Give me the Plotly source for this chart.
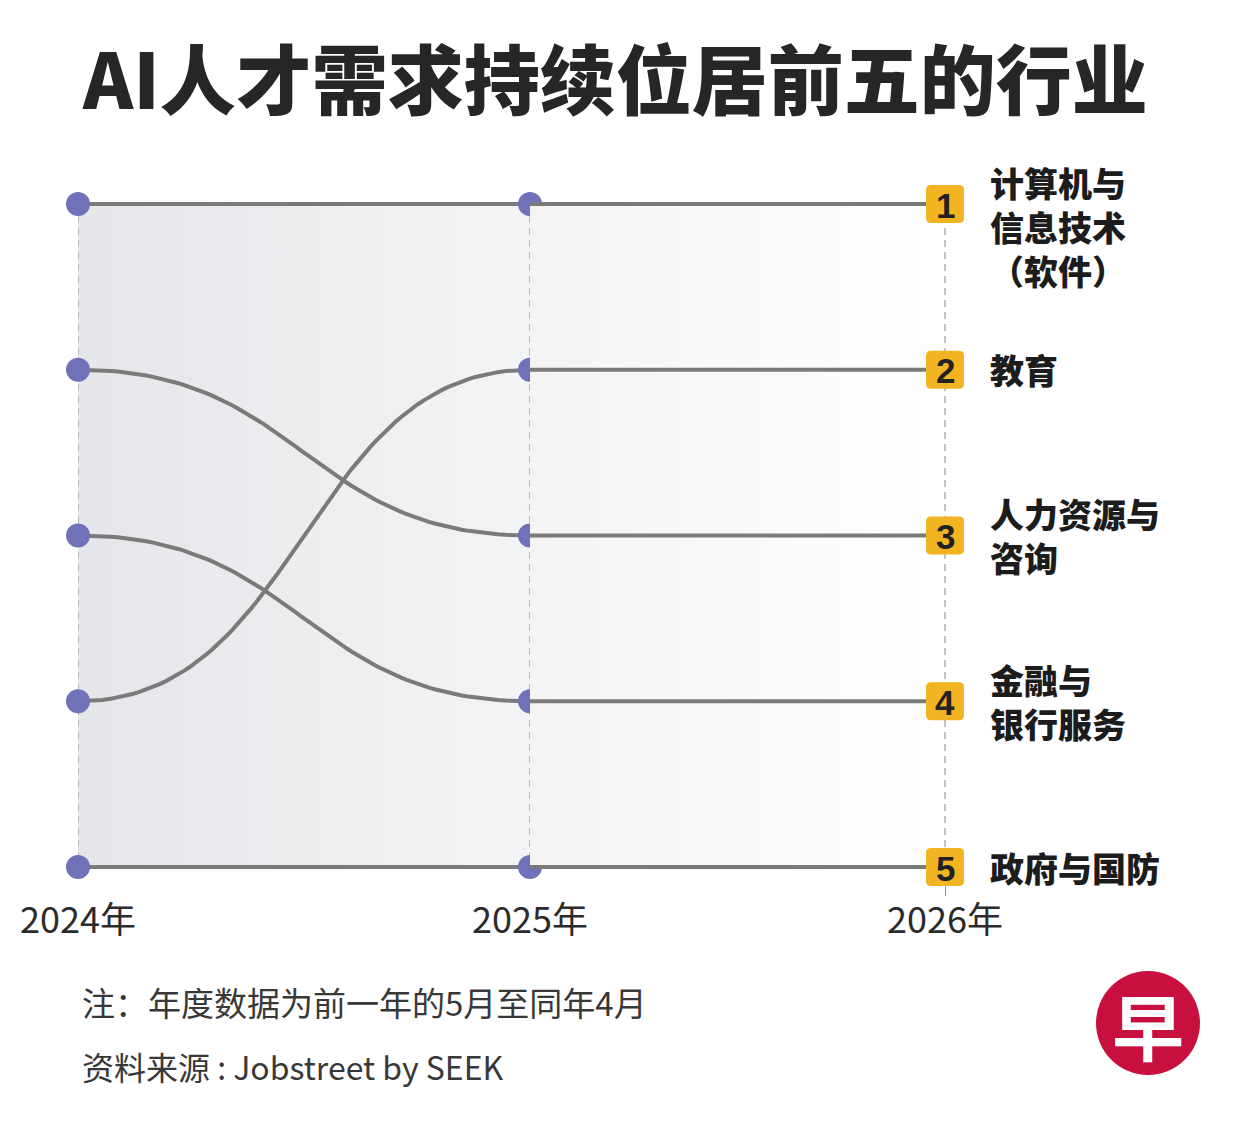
import plotly.graph_objects as go

# ---------------- data ----------------
years = [2024, 2025, 2026]
year_labels = ["2024年", "2025年", "2026年"]
industries = [["计算机与", "信息技术", "（软件）"], ["教育"], ["人力资源与", "咨询"],
              ["金融与", "银行服务"], ["政府与国防"]]
rank_2024 = [1, 4, 2, 3, 5]
rank_2025 = [1, 2, 3, 4, 5]
rank_2026 = [1, 2, 3, 4, 5]

title_text = "AI人才需求持续位居前五的行业"
note_text = "注：年度数据为前一年的5月至同年4月"
source_text = "资料来源 : Jobstreet by SEEK"

# ---------------- style ----------------
OFF = 8                      # page body margin
W, H = 1251 - OFF, 1127 - OFF
CJK = "Noto Sans CJK SC"
LINE_C = "#7a7a7a"
DOT_C = "#6f72b9"
BOX_C = "#f2b420"
DASH_C = "#9c9c9c"


def fx(px):
    return (px - OFF) / W


def fy(py):
    return 1 - (py - OFF) / H


# pixel layout (reference coordinates)
px_x = [78, 530, 945]
rank_top_px, rank_bottom_px = 204, 867
step = (rank_bottom_px - rank_top_px) / 4
pad_top, pad_right = 30, 30
plot_top_px, plot_bottom_px = rank_top_px - pad_top, 896
y_top = 1 - pad_top / step
y_bot = 5 + (plot_bottom_px - rank_bottom_px) / step
x2_right = years[2] + pad_right / (px_x[2] - px_x[1])

fig = go.Figure()

# gradient background panels
rmin, rmax = min(rank_2025), max(rank_2025)
fig.add_trace(go.Scatter(
    x=[years[0], years[1], years[1], years[0], years[0]],
    y=[rmin, rmin, rmax, rmax, rmin],
    fill="toself", mode="lines", line=dict(width=0),
    fillgradient=dict(type="horizontal", colorscale=[[0, "#e5e6e9"], [1, "#f3f4f5"]]),
    hoverinfo="skip", showlegend=False, xaxis="x", yaxis="y"))
fig.add_trace(go.Scatter(
    x=[years[1], years[2], years[2], years[1], years[1]],
    y=[rmin, rmin, rmax, rmax, rmin],
    fill="toself", mode="lines", line=dict(width=0),
    fillgradient=dict(type="horizontal", colorscale=[[0, "#f4f4f5"], [1, "#ffffff"]]),
    hoverinfo="skip", showlegend=False, xaxis="x2", yaxis="y"))

# dashed vertical guides
for i, yr in enumerate(years):
    fig.add_trace(go.Scatter(
        x=[yr, yr], y=[rmin, rmax], mode="lines",
        line=dict(color=DASH_C, width=1.2, dash="7px,5px"),
        hoverinfo="skip", showlegend=False,
        xaxis="x" if i < 2 else "x2", yaxis="y"))


def bump(x0, x1, r0, r1, n=80):
    xs, ys = [], []
    xm = (x0 + x1) / 2
    for k in range(n + 1):
        t = k / n
        a, b, c, d = (1 - t) ** 3, 3 * (1 - t) ** 2 * t, 3 * (1 - t) * t ** 2, t ** 3
        xs.append(a * x0 + b * xm + c * xm + d * x1)
        ys.append(a * r0 + b * r0 + c * r1 + d * r1)
    return xs, ys


# connecting lines
for r0, r1, r2 in zip(rank_2024, rank_2025, rank_2026):
    xs, ys = bump(years[0], years[1], r0, r1)
    fig.add_trace(go.Scatter(x=xs, y=ys, mode="lines",
                             line=dict(color=LINE_C, width=4),
                             hoverinfo="skip", showlegend=False, cliponaxis=False,
                             xaxis="x", yaxis="y"))
    fig.add_trace(go.Scatter(x=[years[1], years[2]], y=[r1, r2], mode="lines",
                             line=dict(color=LINE_C, width=4),
                             hoverinfo="skip", showlegend=False, cliponaxis=False,
                             xaxis="x2", yaxis="y"))

# dots
fig.add_trace(go.Scatter(
    x=[years[0]] * len(rank_2024) + [years[1]] * len(rank_2025),
    y=rank_2024 + rank_2025, mode="markers",
    marker=dict(size=24, color=DOT_C, line=dict(width=0)),
    cliponaxis=False, hoverinfo="skip", showlegend=False, xaxis="x", yaxis="y"))

shapes = []
annotations = []

# rank boxes + numbers + labels
s, rr = 19, 5
box_path = (f"M {-s+rr},{-s} L {s-rr},{-s} Q {s},{-s} {s},{-s+rr} L {s},{s-rr} Q {s},{s} {s-rr},{s} "
            f"L {-s+rr},{s} Q {-s},{s} {-s},{s-rr} L {-s},{-s+rr} Q {-s},{-s} {-s+rr},{-s} Z")
for r, lines in zip(rank_2026, industries):
    shapes.append(dict(type="path", xref="x2", yref="y", xsizemode="pixel", ysizemode="pixel",
                       xanchor=years[2], yanchor=r, path=box_path,
                       fillcolor=BOX_C, line=dict(width=0), layer="above"))
    annotations.append(dict(xref="x2", yref="y", x=years[2], y=r, text=str(r), showarrow=False,
                            font=dict(family="Liberation Sans, Arial", size=35, color="#222222", weight="bold"),
                            xanchor="center", yanchor="middle", yshift=-1))
    n = len(lines)
    center = 0 if n == 1 else 22 * (n - 2)
    annotations.append(dict(xref="paper", yref="y", x=fx(988), y=r, text="<br>".join(lines),
                            showarrow=False, align="left", xanchor="left", yanchor="middle",
                            yshift=-center,
                            font=dict(family=CJK, size=34, color="#1c1c1c", weight=900)))

# title
annotations.append(dict(xref="paper", yref="paper", x=fx(615), y=fy(76), text=title_text,
                        showarrow=False, xanchor="center", yanchor="middle",
                        font=dict(family=CJK, size=76, color="#262626", weight=900)))
# footnotes
annotations.append(dict(xref="paper", yref="paper", x=fx(80), y=fy(1002), text=note_text,
                        showarrow=False, xanchor="left", yanchor="middle",
                        font=dict(family=CJK, size=33, color="#383838")))
annotations.append(dict(xref="paper", yref="paper", x=fx(80), y=fy(1066), text=source_text,
                        showarrow=False, xanchor="left", yanchor="middle",
                        font=dict(family=CJK, size=32, color="#383838")))

# logo
cx, cy, cr = 1148, 1023, 52
shapes.append(dict(type="circle", xref="paper", yref="paper",
                   x0=fx(cx - cr), x1=fx(cx + cr), y0=fy(cy + cr), y1=fy(cy - cr),
                   fillcolor="#c8103e", line=dict(width=0), layer="above"))
annotations.append(dict(xref="paper", yref="paper", x=fx(cx), y=fy(cy), text="早",
                        showarrow=False, xanchor="center", yanchor="middle",
                        font=dict(family=CJK, size=72, color="white", weight="bold")))

axis_common = dict(showgrid=False, zeroline=False, showline=False, automargin=False,
                   ticks="inside", ticklen=plot_bottom_px - rank_bottom_px, tickcolor="#909090", tickwidth=1.2,
                   tickfont=dict(family=CJK, size=36, color="#2b2b2b"), layer="below traces",
                   fixedrange=True)

fig.update_layout(
    width=W, height=H,
    margin=dict(l=0, r=0, t=0, b=0, pad=0, autoexpand=False),
    paper_bgcolor="white", plot_bgcolor="rgba(0,0,0,0)",
    showlegend=False,
    xaxis=dict(domain=[fx(px_x[0]), fx(px_x[1])], range=[years[0], years[1]],
               tickvals=years[:2], ticktext=year_labels[:2], anchor="y", **axis_common),
    xaxis2=dict(domain=[fx(px_x[1]), fx(px_x[2] + pad_right)], range=[years[1], x2_right],
                tickvals=years[2:], ticktext=year_labels[2:], anchor="y", **axis_common),
    yaxis=dict(domain=[fy(plot_bottom_px), fy(plot_top_px)], range=[y_bot, y_top], automargin=False,
               showgrid=False, zeroline=False, showline=False, showticklabels=False, fixedrange=True),
    shapes=shapes,
    annotations=annotations,
)

fig.write_html("out.html")
